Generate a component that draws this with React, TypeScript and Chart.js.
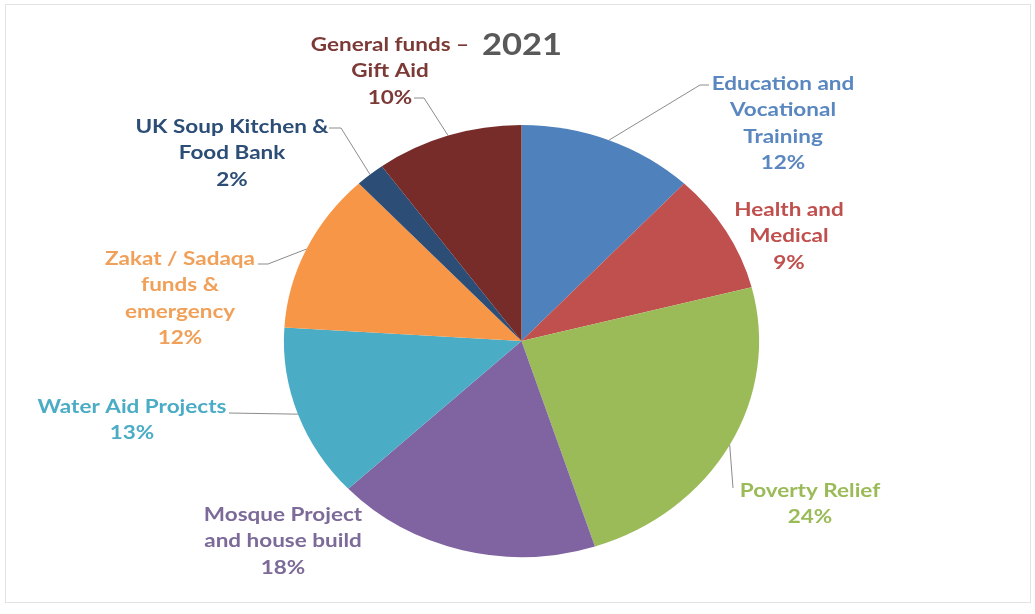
import { useEffect, useRef } from "react";
import { Chart, registerables } from "chart.js";

Chart.register(...registerables);

const categories = [
  "Education and\nVocational\nTraining",
  "Health and\nMedical",
  "Poverty Relief",
  "Mosque Project\nand house build",
  "Water Aid Projects",
  "Zakat / Sadaqa\nfunds &\nemergency",
  "UK Soup Kitchen &\nFood Bank",
  "General funds –\nGift Aid",
];
const shares = [12, 9, 24, 18, 13, 12, 2, 10];
const sliceColors = ["#4f81bd", "#c0504d", "#9bbb59", "#8064a2", "#4bacc6", "#f79646", "#2c4d75", "#772c2a"];
const textColors = ["#5a87bf", "#c0504d", "#9bbb59", "#7c6a98", "#4bacc6", "#f0a058", "#2c4d75", "#7b3a36"];
const titleText = "2021";

// label placement: centre x, first line centre y, leader anchor + elbow
type Place = { cx: number; y: number; anchor?: [number, number]; elbow?: [number, number] };
const placement: Place[] = [
  { cx: 783, y: 84, anchor: [709, 85], elbow: [700, 85] },
  { cx: 789, y: 210 },
  { cx: 810, y: 491, anchor: [733, 488] },
  { cx: 283, y: 515 },
  { cx: 132, y: 407, anchor: [229, 413] },
  { cx: 180, y: 259, anchor: [258, 264], elbow: [268, 264] },
  { cx: 232, y: 127, anchor: [329, 128], elbow: [341, 128] },
  { cx: 390, y: 45, anchor: [414, 98], elbow: [424, 98] },
];

const STRETCH = 1.1; // source pie is slightly wider than tall
const TEXT_STRETCH = 1.25;
const LINE_H = 26.5;
const FONT = "Lato, 'Open Sans', sans-serif";

const ellipsePlugin = {
  id: "ellipse",
  beforeDatasetsDraw(chart: any) {
    const arc = chart.getDatasetMeta(0).data[0];
    if (!arc) return;
    const ctx = chart.ctx;
    ctx.save();
    ctx.translate(arc.x, 0);
    ctx.scale(STRETCH, 1);
    ctx.translate(-arc.x, 0);
  },
  afterDatasetsDraw(chart: any) {
    chart.ctx.restore();
  },
};

const labelsPlugin = {
  id: "outLabels",
  beforeDraw(chart: any) {
    const ctx = chart.ctx;
    ctx.save();
    ctx.fillStyle = "#ffffff";
    ctx.fillRect(0, 0, chart.width, chart.height);
    ctx.strokeStyle = "#e3e3e3";
    ctx.lineWidth = 1;
    ctx.strokeRect(5.5, 4.5, 1025, 598);
    ctx.restore();
  },
  afterDraw(chart: any) {
    const ctx = chart.ctx;
    const meta = chart.getDatasetMeta(0);
    ctx.save();
    ctx.textAlign = "center";
    ctx.textBaseline = "middle";
    // title
    ctx.save();
    ctx.font = `bold 30px ${FONT}`;
    ctx.fillStyle = "#595959";
    ctx.translate(522, 45);
    ctx.scale(1.15, 1);
    ctx.fillText(titleText, 0, 0);
    ctx.restore();

    meta.data.forEach((arc: any, i: number) => {
      const p = placement[i];
      const { x, y, startAngle, endAngle, outerRadius } = arc.getProps(
        ["x", "y", "startAngle", "endAngle", "outerRadius"],
        true
      );
      const mid = (startAngle + endAngle) / 2;
      const ex = x + Math.cos(mid) * outerRadius * STRETCH;
      const ey = y + Math.sin(mid) * outerRadius;
      if (p.anchor) {
        ctx.strokeStyle = "#8c8c8c";
        ctx.lineWidth = 1;
        ctx.beginPath();
        ctx.moveTo(p.anchor[0], p.anchor[1]);
        if (p.elbow) ctx.lineTo(p.elbow[0], p.elbow[1]);
        ctx.lineTo(ex, ey);
        ctx.stroke();
      }
      const lines = categories[i].split("\n").concat([`${shares[i]}%`]);
      ctx.font = `bold 18px ${FONT}`;
      ctx.fillStyle = textColors[i];
      lines.forEach((t, k) => {
        ctx.save();
        ctx.translate(p.cx, p.y + k * LINE_H);
        ctx.scale(TEXT_STRETCH, 1);
        ctx.fillText(t, 0, 0);
        ctx.restore();
      });
    });
    ctx.restore();
  },
};

export default function App() {
  const canvasRef = useRef<HTMLCanvasElement>(null);
  const chartRef = useRef<Chart | null>(null);

  useEffect(() => {
    if (!canvasRef.current) return;
    if (chartRef.current) chartRef.current.destroy();

    chartRef.current = new Chart(canvasRef.current, {
      type: "pie",
      data: {
        labels: categories,
        datasets: [
          {
            data: shares,
            backgroundColor: sliceColors,
            borderWidth: 0,
            clip: false,
          } as any,
        ],
      },
      options: {
        responsive: true,
        maintainAspectRatio: false,
        animation: false,
        events: [],
        radius: 216,
        layout: { padding: { top: 125, bottom: 57, left: 8, right: 0 } },
        plugins: {
          legend: { display: false },
          tooltip: { enabled: false },
          title: { display: false },
        },
      } as any,
      plugins: [labelsPlugin, ellipsePlugin],
    });

    return () => {
      if (chartRef.current) {
        chartRef.current.destroy();
        chartRef.current = null;
      }
    };
  }, []);

  return (
    <div style={{ position: "fixed", left: 0, top: 0, width: 1035, height: 614, background: "#fff" }}>
      <canvas ref={canvasRef}></canvas>
    </div>
  );
}
